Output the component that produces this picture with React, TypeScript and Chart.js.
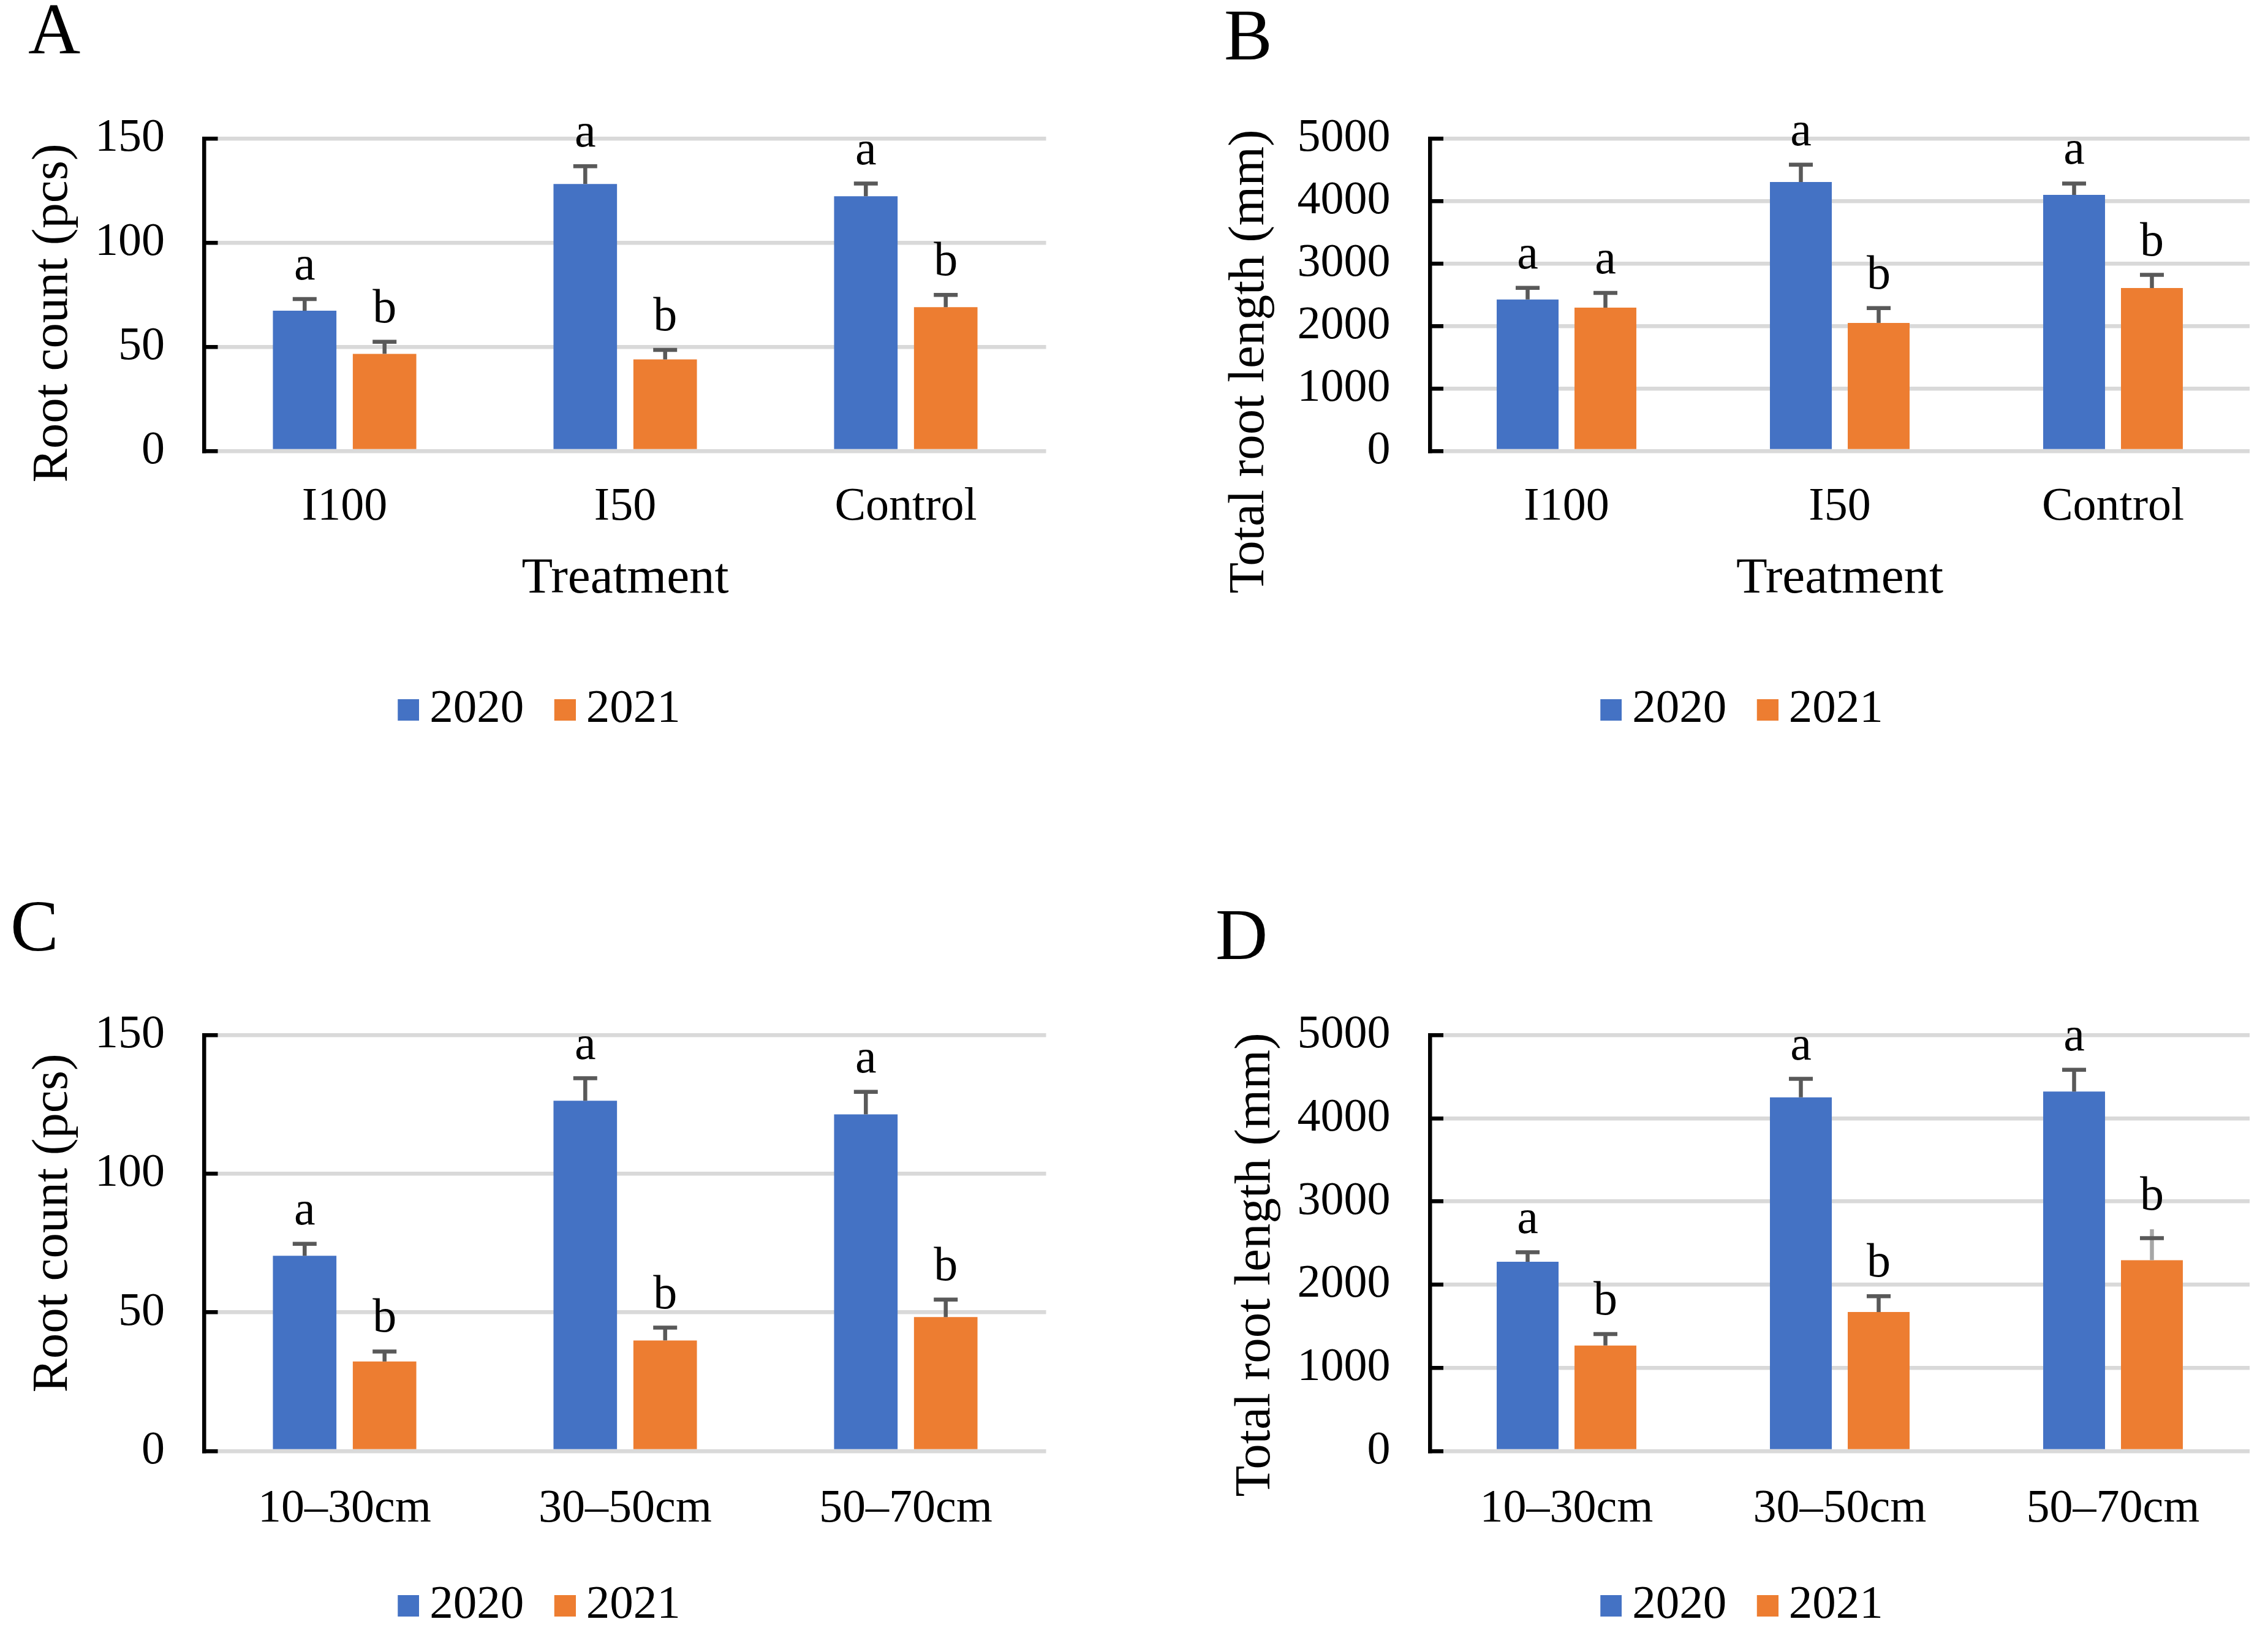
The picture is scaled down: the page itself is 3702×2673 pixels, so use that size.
import React, { useEffect, useRef } from 'react';
import { Chart, registerables } from 'chart.js';

Chart.register(...registerables);

// ---------------- data ----------------
const treatmentLabels = ['I100', 'I50', 'Control'];
const depthLabels = ['10–30cm', '30–50cm', '50–70cm'];
const yearLabels = ['2020', '2021'];

const rootCountTreatment2020 = [67.4, 128.3, 122.4];
const rootCountTreatment2020Err = [5.6, 8.5, 6.1];
const rootCountTreatment2021 = [46.7, 44.0, 69.1];
const rootCountTreatment2021Err = [5.8, 4.6, 5.9];
const rootCountTreatment2020Sig = ['a', 'a', 'a'];
const rootCountTreatment2021Sig = ['b', 'b', 'b'];

const rootLengthTreatment2020 = [2427, 4308, 4102];
const rootLengthTreatment2020Err = [187, 277, 182];
const rootLengthTreatment2021 = [2296, 2052, 2610];
const rootLengthTreatment2021Err = [237, 236, 211];
const rootLengthTreatment2020Sig = ['a', 'a', 'a'];
const rootLengthTreatment2021Sig = ['a', 'b', 'b'];

const rootCountDepth2020 = [70.4, 126.3, 121.4];
const rootCountDepth2020Err = [4.3, 8.1, 8.1];
const rootCountDepth2021 = [32.3, 39.9, 48.3];
const rootCountDepth2021Err = [3.6, 4.6, 6.3];
const rootCountDepth2020Sig = ['a', 'a', 'a'];
const rootCountDepth2021Sig = ['b', 'b', 'b'];

const rootLengthDepth2020 = [2275, 4251, 4320];
const rootLengthDepth2020Err = [114, 222, 263];
const rootLengthDepth2021 = [1269, 1671, 2294];
const rootLengthDepth2021Err = [138, 191, 265];
const rootLengthDepth2020Sig = ['a', 'a', 'a'];
const rootLengthDepth2021Sig = ['b', 'b', 'b'];

const rootCountTicks = [0, 50, 100, 150];
const rootLengthTicks = [0, 1000, 2000, 3000, 4000, 5000];

// ---------------- style ----------------
const FONT = '"Liberation Serif", "Times New Roman", serif';
const BLUE = '#4472C4';
const ORANGE = '#ED7D31';
const GRID = '#D9D9D9';
const ERR = '#595959';
const ERR_LIGHT = '#A6A6A6';
const LW = 6.5;
const CAP = 39;
const TICK_FS = 76;
const TITLE_FS = 83;
const LEGEND_FS = 77;
const SIG_FS = 78;
const LETTER_FS = 118;
const LEGEND_PAD = 30;
const SWATCH_W = 76;
const SWATCH_BOX = 35;
const LEGEND_BW = 33;
const LEGEND_VIS_SHIFT = 9.75;
const CAT_PCT = 0.5695;
const BAR_PCT = 0.795;
const TICK_LEN = -22;
const LABEL_GAP = 64.5;

type Panel = {
  key: string;
  letter: string;
  labels: string[];
  s2020: number[]; e2020: number[]; g2020: string[];
  s2021: number[]; e2021: number[]; g2021: string[];
  ticks: number[];
  yTitle: string;
  xTitle: string | null;
  left: number; top: number; width: number; height: number;
  plotLeft: number; plotRight: number; plotTop: number; plotBottom: number;
  xLabelY: number; xTitleY: number;
  legendX: number; legendY: number;
  yTitleX: number; yTitleY: number;
  letterX: number; letterY: number;
  lightStem?: { dataset: number; index: number; extend: number };
};

const panels: Panel[] = [
  {
    key: 'A', letter: 'A', labels: treatmentLabels,
    s2020: rootCountTreatment2020, e2020: rootCountTreatment2020Err, g2020: rootCountTreatment2020Sig,
    s2021: rootCountTreatment2021, e2021: rootCountTreatment2021Err, g2021: rootCountTreatment2021Sig,
    ticks: rootCountTicks, yTitle: 'Root count (pcs)', xTitle: 'Treatment',
    left: 0, top: 0, width: 1760, height: 1300,
    plotLeft: 333.5, plotRight: 1707.5, plotTop: 226.5, plotBottom: 736,
    xLabelY: 828, xTitleY: 945, legendX: 880, legendY: 1158,
    yTitleX: 87, yTitleY: 511, letterX: 46, letterY: 87,
  },
  {
    key: 'B', letter: 'B', labels: treatmentLabels,
    s2020: rootLengthTreatment2020, e2020: rootLengthTreatment2020Err, g2020: rootLengthTreatment2020Sig,
    s2021: rootLengthTreatment2021, e2021: rootLengthTreatment2021Err, g2021: rootLengthTreatment2021Sig,
    ticks: rootLengthTicks, yTitle: 'Total root length (mm)', xTitle: 'Treatment',
    left: 1850, top: 0, width: 1852, height: 1300,
    plotLeft: 2334, plotRight: 3672, plotTop: 226.5, plotBottom: 736,
    xLabelY: 828, xTitleY: 945, legendX: 2843, legendY: 1158,
    yTitleX: 2040, yTitleY: 590, letterX: 1998, letterY: 97,
  },
  {
    key: 'C', letter: 'C', labels: depthLabels,
    s2020: rootCountDepth2020, e2020: rootCountDepth2020Err, g2020: rootCountDepth2020Sig,
    s2021: rootCountDepth2021, e2021: rootCountDepth2021Err, g2021: rootCountDepth2021Sig,
    ticks: rootCountTicks, yTitle: 'Root count (pcs)', xTitle: null,
    left: 0, top: 1300, width: 1760, height: 1380,
    plotLeft: 333.5, plotRight: 1707.5, plotTop: 1689, plotBottom: 2368,
    xLabelY: 2463, xTitleY: 0, legendX: 880, legendY: 2620,
    yTitleX: 87, yTitleY: 1996, letterX: 17, letterY: 1551,
  },
  {
    key: 'D', letter: 'D', labels: depthLabels,
    s2020: rootLengthDepth2020, e2020: rootLengthDepth2020Err, g2020: rootLengthDepth2020Sig,
    s2021: rootLengthDepth2021, e2021: rootLengthDepth2021Err, g2021: rootLengthDepth2021Sig,
    ticks: rootLengthTicks, yTitle: 'Total root length (mm)', xTitle: null,
    left: 1850, top: 1300, width: 1852, height: 1380,
    plotLeft: 2334, plotRight: 3672, plotTop: 1689, plotBottom: 2368,
    xLabelY: 2463, xTitleY: 0, legendX: 2843, legendY: 2620,
    yTitleX: 2050, yTitleY: 2064, letterX: 1984, letterY: 1565,
    lightStem: { dataset: 1, index: 2, extend: 14.5 },
  },
];

const decoPlugin = {
  id: 'panelDeco',
  afterDatasetsDraw(chart: any, _args: any, opts: any) {
    const ctx = chart.ctx;
    const yScale = chart.scales.y;
    chart.data.datasets.forEach((ds: any, di: number) => {
      const meta = chart.getDatasetMeta(di);
      meta.data.forEach((bar: any, i: number) => {
        const v = ds.data[i];
        const e = ds.errors[i];
        const x = bar.x;
        const yTop = yScale.getPixelForValue(v);
        const yErr = yScale.getPixelForValue(v + e);
        const ls = opts.lightStem;
        const quirk = ls && ls.dataset === di && ls.index === i;
        const stemTop = quirk ? yErr - ls.extend : yErr;
        ctx.save();
        ctx.lineCap = 'butt';
        ctx.lineWidth = LW;
        ctx.strokeStyle = quirk ? ERR_LIGHT : ERR;
        ctx.beginPath();
        ctx.moveTo(x, yTop);
        ctx.lineTo(x, stemTop);
        ctx.stroke();
        ctx.strokeStyle = ERR;
        ctx.beginPath();
        ctx.moveTo(x - CAP / 2, yErr);
        ctx.lineTo(x + CAP / 2, yErr);
        ctx.stroke();
        ctx.fillStyle = '#000';
        ctx.font = `${SIG_FS}px ${FONT}`;
        ctx.textAlign = 'center';
        ctx.textBaseline = 'alphabetic';
        ctx.fillText(ds.sig[i], x, stemTop - 32);
        ctx.restore();
      });
    });
  },
  afterDraw(chart: any, _args: any, opts: any) {
    const ctx = chart.ctx;
    ctx.save();
    ctx.fillStyle = '#000';
    ctx.font = `${TITLE_FS}px ${FONT}`;
    ctx.translate(opts.yTitleX, opts.yTitleY);
    ctx.rotate(-Math.PI / 2);
    ctx.textAlign = 'center';
    ctx.textBaseline = 'middle';
    ctx.fillText(opts.yTitle, 0, 0);
    ctx.restore();
    ctx.save();
    ctx.fillStyle = '#000';
    ctx.font = `${LETTER_FS}px ${FONT}`;
    ctx.textAlign = 'left';
    ctx.textBaseline = 'alphabetic';
    ctx.fillText(opts.letter, opts.letterX, opts.letterY);
    ctx.restore();
  },
};

function makeSwatch(color: string) {
  const c = document.createElement('canvas');
  c.width = SWATCH_W;
  c.height = SWATCH_BOX;
  const g = c.getContext('2d')!;
  g.fillStyle = color;
  g.fillRect(SWATCH_W - SWATCH_BOX, 0, SWATCH_BOX, SWATCH_BOX);
  return c;
}

function buildConfig(p: Panel): any {
  const swatches = [makeSwatch(BLUE), makeSwatch(ORANGE)];
  const legendLeft = 2 * (p.legendX - LEGEND_VIS_SHIFT) - p.plotRight;
  const padL = legendLeft - p.left;
  const padR = p.left + p.width - p.plotRight;
  const padT = p.plotTop - p.top;
  const legendTop = p.legendY - (LEGEND_PAD + LEGEND_FS / 2);
  const legendH = LEGEND_FS + LEGEND_PAD + 10;
  const padB = p.top + p.height - (legendTop + legendH);
  const yW = p.plotLeft - legendLeft;
  const xH = legendTop - p.plotBottom;
  const xLabelPad = p.xLabelY - p.plotBottom - (TICK_FS * 1.2) / 2;
  const xTitlePad = legendTop - p.xTitleY - (TITLE_FS * 1.2) / 2;
  const tickStep = p.ticks[1] - p.ticks[0];

  return {
    type: 'bar',
    data: {
      labels: p.labels,
      datasets: [
        { label: yearLabels[0], data: p.s2020, errors: p.e2020, sig: p.g2020, backgroundColor: BLUE, borderWidth: 0, categoryPercentage: CAT_PCT, barPercentage: BAR_PCT },
        { label: yearLabels[1], data: p.s2021, errors: p.e2021, sig: p.g2021, backgroundColor: ORANGE, borderWidth: 0, categoryPercentage: CAT_PCT, barPercentage: BAR_PCT },
      ],
    },
    options: {
      animation: false,
      responsive: true,
      maintainAspectRatio: false,
      devicePixelRatio: 1,
      events: [],
      layout: { padding: { left: padL, right: padR, top: padT, bottom: padB } },
      scales: {
        x: {
          type: 'category',
          grid: { display: false, drawTicks: false },
          border: { display: false },
          ticks: { font: { family: FONT, size: TICK_FS }, color: '#000', padding: xLabelPad, autoSkip: false, maxRotation: 0, minRotation: 0 },
          title: p.xTitle
            ? { display: true, text: p.xTitle, color: '#000', font: { family: FONT, size: TITLE_FS }, padding: { top: 0, bottom: xTitlePad } }
            : { display: false },
          afterFit: (s: any) => { s.height = xH; },
        },
        y: {
          type: 'linear',
          min: p.ticks[0],
          max: p.ticks[p.ticks.length - 1],
          grid: { color: GRID, lineWidth: LW, tickColor: '#000', tickWidth: LW, tickLength: TICK_LEN, drawTicks: true },
          border: { display: true, color: '#000', width: LW },
          ticks: { stepSize: tickStep, font: { family: FONT, size: TICK_FS }, color: '#000', padding: LABEL_GAP - TICK_LEN, callback: (v: any) => String(v) },
          afterFit: (s: any) => { s.width = yW; },
        },
      },
      plugins: {
        legend: {
          position: 'bottom',
          labels: {
            usePointStyle: true,
            pointStyleWidth: LEGEND_BW,
            padding: LEGEND_PAD,
            color: '#000',
            font: { family: FONT, size: LEGEND_FS },
            generateLabels: (chart: any) =>
              (Chart.defaults.plugins.legend.labels.generateLabels as any)(chart).map((l: any, i: number) => ({ ...l, pointStyle: swatches[i] })),
          },
        },
        tooltip: { enabled: false },
        panelDeco: {
          yTitle: p.yTitle,
          yTitleX: p.yTitleX - p.left,
          yTitleY: p.yTitleY - p.top,
          letter: p.letter,
          letterX: p.letterX - p.left,
          letterY: p.letterY - p.top,
          lightStem: p.lightStem || null,
        },
      },
    },
    plugins: [decoPlugin],
  };
}

function PanelChart({ p }: { p: Panel }) {
  const ref = useRef<HTMLCanvasElement>(null);
  useEffect(() => {
    if (!ref.current) return;
    const chart = new Chart(ref.current, buildConfig(p));
    return () => chart.destroy();
  }, [p]);
  return (
    <div style={{ position: 'absolute', left: p.left, top: p.top, width: p.width, height: p.height }}>
      <canvas ref={ref} />
    </div>
  );
}

export default function App() {
  return (
    <div style={{ position: 'absolute', left: 0, top: 0, width: 3702, height: 2673, overflow: 'hidden', background: '#fff' }}>
      {panels.map((p) => (
        <PanelChart key={p.key} p={p} />
      ))}
    </div>
  );
}
